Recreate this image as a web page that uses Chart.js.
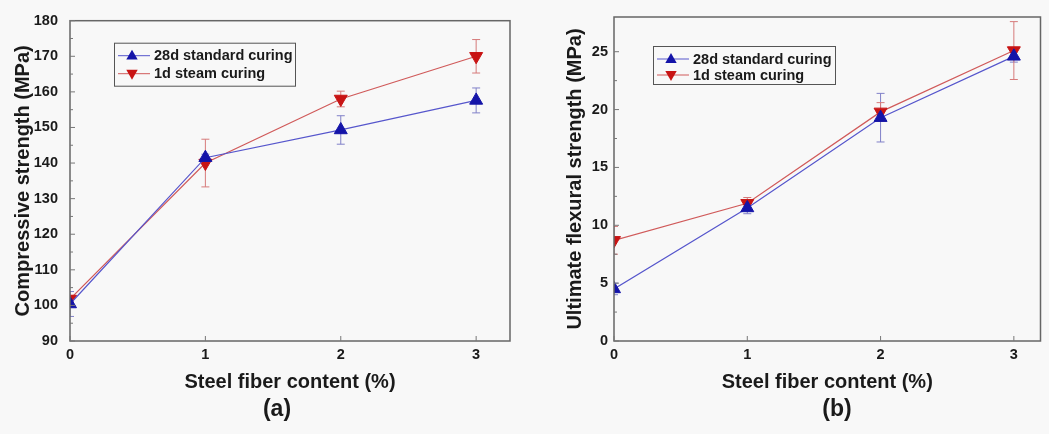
<!DOCTYPE html>
<html><head><meta charset="utf-8">
<script src="https://cdn.jsdelivr.net/npm/chart.js@4.4.0/dist/chart.umd.min.js"></script>
<style>
html,body{margin:0;padding:0;background:#f8f8f8;width:1049px;height:434px;overflow:hidden}
canvas{position:absolute;top:0}
#c1{left:0}
#c2{left:525px}
</style></head><body>
<canvas id="c1" width="525" height="434"></canvas>
<canvas id="c2" width="524" height="434"></canvas>
<script>
// ---- data ----
const fiberContent = [0, 1, 2, 3];
const xTickValues = [0, 1, 2, 3];
const seriesNames = ['28d standard curing', '1d steam curing'];

const compStd28 = [100.4, 141.5, 149.3, 157.6];
const compSteam1 = [101.8, 140.0, 158.0, 170.0];
const compStd28Err = [3.5, 1.0, 4.0, 3.5];
const compSteam1Err = [1.0, 6.7, 2.2, 4.7];
const compTicks = [90, 100, 110, 120, 130, 140, 150, 160, 170, 180];

const flexStd28 = [4.5, 11.5, 19.3, 24.6];
const flexSteam1 = [8.7, 11.9, 19.8, 25.1];
const flexStd28Err = [0.5, 0.5, 2.1, 0.5];
const flexSteam1Err = [1.2, 0.5, 0.8, 2.5];
const flexTicks = [0, 5, 10, 15, 20, 25];

// ---- style ----
const FONT = '"Liberation Sans", Arial, sans-serif';
const BLUE_LINE = '#5656cc', BLUE_MARK = '#1414a8', BLUE_ERR = '#8080c8';
const RED_LINE = '#d05a5a', RED_MARK = '#c81414', RED_ERR = '#d67a7a';
const AXIS = '#666666';

function tri(ctx, x, y, r, down) {
  ctx.beginPath();
  const s = down ? -1 : 1;
  ctx.moveTo(x, y - s * r);
  ctx.lineTo(x - r * 0.95, y + s * r * 0.65);
  ctx.lineTo(x + r * 0.95, y + s * r * 0.65);
  ctx.closePath();
  ctx.fill();
}

const panelPlugin = {
  id: 'panel',
  beforeDatasetsDraw(chart) {
    const {ctx, chartArea: a} = chart;
    const xs = chart.scales.x, ys = chart.scales.y;
    ctx.save();
    ctx.beginPath();
    ctx.rect(a.left, a.top - 3, a.right - a.left, a.bottom - a.top + 6);
    ctx.clip();
    chart.data.datasets.forEach(ds => {
      ctx.strokeStyle = ds.errColor;
      ctx.lineWidth = 1;
      ds.data.forEach((p, i) => {
        const e = ds.errors[i];
        const px = xs.getPixelForValue(p.x);
        const y1 = ys.getPixelForValue(p.y + e), y2 = ys.getPixelForValue(p.y - e);
        ctx.beginPath();
        ctx.moveTo(px, y1); ctx.lineTo(px, y2);
        ctx.moveTo(px - 4, y1); ctx.lineTo(px + 4, y1);
        ctx.moveTo(px - 4, y2); ctx.lineTo(px + 4, y2);
        ctx.stroke();
      });
    });
    ctx.restore();
  },
  afterDatasetsDraw(chart, args, o) {
    const {ctx, chartArea: a} = chart;
    const xs = chart.scales.x, ys = chart.scales.y;
    ctx.save();
    ctx.strokeStyle = AXIS;
    ctx.lineWidth = 1.5;
    ctx.strokeRect(a.left, a.top, a.right - a.left, a.bottom - a.top);
    // inside ticks
    ctx.lineWidth = 1;
    ctx.strokeStyle = '#777';
    ctx.beginPath();
    const yt = o.yTicks;
    for (let i = 0; i < yt.length; i++) {
      const py = ys.getPixelForValue(yt[i]);
      ctx.moveTo(a.left, py); ctx.lineTo(a.left + 5, py);
      if (i < yt.length - 1) {
        const pm = ys.getPixelForValue((yt[i] + yt[i + 1]) / 2);
        ctx.moveTo(a.left, pm); ctx.lineTo(a.left + 3, pm);
      }
    }
    xTickValues.forEach(v => {
      const px = xs.getPixelForValue(v);
      ctx.moveTo(px, a.bottom); ctx.lineTo(px, a.bottom - 5);
    });
    ctx.stroke();
    ctx.restore();
  },
  afterDraw(chart, args, o) {
    const {ctx, chartArea: a} = chart;
    ctx.save();
    // legend box
    const bx = a.left + o.legX, by = a.top + o.legY;
    ctx.strokeStyle = '#555';
    ctx.lineWidth = 1;
    ctx.strokeRect(bx + 0.5, by + 0.5, o.legW, o.legH);
    ctx.font = 'bold 14.5px ' + FONT;
    ctx.textBaseline = 'middle';
    ctx.textAlign = 'left';
    chart.data.datasets.forEach((ds, i) => {
      const ry = by + o.rows[i];
      ctx.strokeStyle = ds.borderColor;
      ctx.lineWidth = 1;
      ctx.beginPath(); ctx.moveTo(bx + 4, ry); ctx.lineTo(bx + 36, ry); ctx.stroke();
      ctx.fillStyle = ds.pointBackgroundColor;
      tri(ctx, bx + 18, ry, 6, ds.pointRotation === 180);
      ctx.fillStyle = '#1a1a1a';
      ctx.fillText(ds.label, bx + 40, ry + 0.5);
    });
    // panel label
    ctx.font = 'bold 23px ' + FONT;
    ctx.textAlign = 'center';
    ctx.fillStyle = '#1a1a1a';
    ctx.fillText(o.panel, o.panelX, o.panelY);
    ctx.restore();
  }
};

function makeChart(id, cfg) {
  const mk = (vals) => fiberContent.map((x, i) => ({x: x, y: vals[i]}));
  return new Chart(document.getElementById(id), {
    type: 'line',
    data: {
      datasets: [
        {label: seriesNames[0], data: mk(cfg.s1), errors: cfg.e1, errColor: BLUE_ERR,
         borderColor: BLUE_LINE, borderWidth: 1.2, pointStyle: 'triangle', pointRadius: 7.5,
         pointBackgroundColor: BLUE_MARK, pointBorderColor: BLUE_MARK, pointBorderWidth: 1, pointRotation: 0},
        {label: seriesNames[1], data: mk(cfg.s2), errors: cfg.e2, errColor: RED_ERR,
         borderColor: RED_LINE, borderWidth: 1.2, pointStyle: 'triangle', pointRadius: 7.5,
         pointBackgroundColor: RED_MARK, pointBorderColor: RED_MARK, pointBorderWidth: 1, pointRotation: 180}
      ]
    },
    options: {
      responsive: false, animation: false,
      layout: {padding: {left: 0, top: 17, right: cfg.padRight, bottom: 0}},
      plugins: {
        legend: {display: false}, tooltip: {enabled: false},
        panel: {yTicks: cfg.yTicks, legX: cfg.legX, legY: cfg.legY, legW: cfg.legW, legH: cfg.legH,
                rows: cfg.rows, panel: cfg.panel, panelX: cfg.panelX, panelY: 410}
      },
      scales: {
        x: {
          type: 'linear', min: 0, max: cfg.xMax,
          afterBuildTicks: s => { s.ticks = xTickValues.map(v => ({value: v})); },
          afterFit: s => { s.height = 93; },
          grid: {display: false, drawTicks: false},
          border: {display: false},
          ticks: {padding: 5, color: '#1a1a1a', font: {family: FONT, size: 14.5, weight: 'bold'}},
          title: {display: true, text: 'Steel fiber content (%)', color: '#1a1a1a',
                  padding: {top: 0, bottom: 40}, font: {family: FONT, size: 20, weight: 'bold'}}
        },
        y: {
          type: 'linear', min: cfg.yMin, max: cfg.yMax,
          afterBuildTicks: s => { s.ticks = cfg.yTicks.map(v => ({value: v})); },
          afterFit: s => { s.width = cfg.yWidth; },
          grid: {display: false, drawTicks: false},
          border: {display: false},
          ticks: {padding: cfg.tickPad, color: '#1a1a1a', font: {family: FONT, size: 14.5, weight: 'bold'}},
          title: {display: true, text: cfg.yTitle, color: '#1a1a1a',
                  padding: {top: cfg.yTitlePad, bottom: 0}, font: {family: FONT, size: 20, weight: 'bold'}}
        }
      }
    },
    plugins: [panelPlugin]
  });
}

makeChart('c1', {
  s1: compStd28, s2: compSteam1, e1: compStd28Err, e2: compSteam1Err,
  yMin: 90, yMax: 180, yTicks: compTicks, xMax: 3.25,
  yTitle: 'Compressive strength (MPa)', yWidth: 70, tickPad: 12, yTitlePad: 11, padRight: 15,
  legX: 44, legY: 22, legW: 181, legH: 43, rows: [13, 31],
  panel: '(a)', panelX: 277
});
makeChart('c2', {
  s1: flexStd28, s2: flexSteam1, e1: flexStd28Err, e2: flexSteam1Err,
  yMin: 0, yMax: 28, yTicks: flexTicks, xMax: 3.2,
  yTitle: 'Ultimate flexural strength (MPa)', yWidth: 89, tickPad: 6, yTitlePad: 38, padRight: 3,
  legX: 39, legY: 29, legW: 182, legH: 38, rows: [13, 29],
  panel: '(b)', panelX: 312
});
</script>
</body></html>
